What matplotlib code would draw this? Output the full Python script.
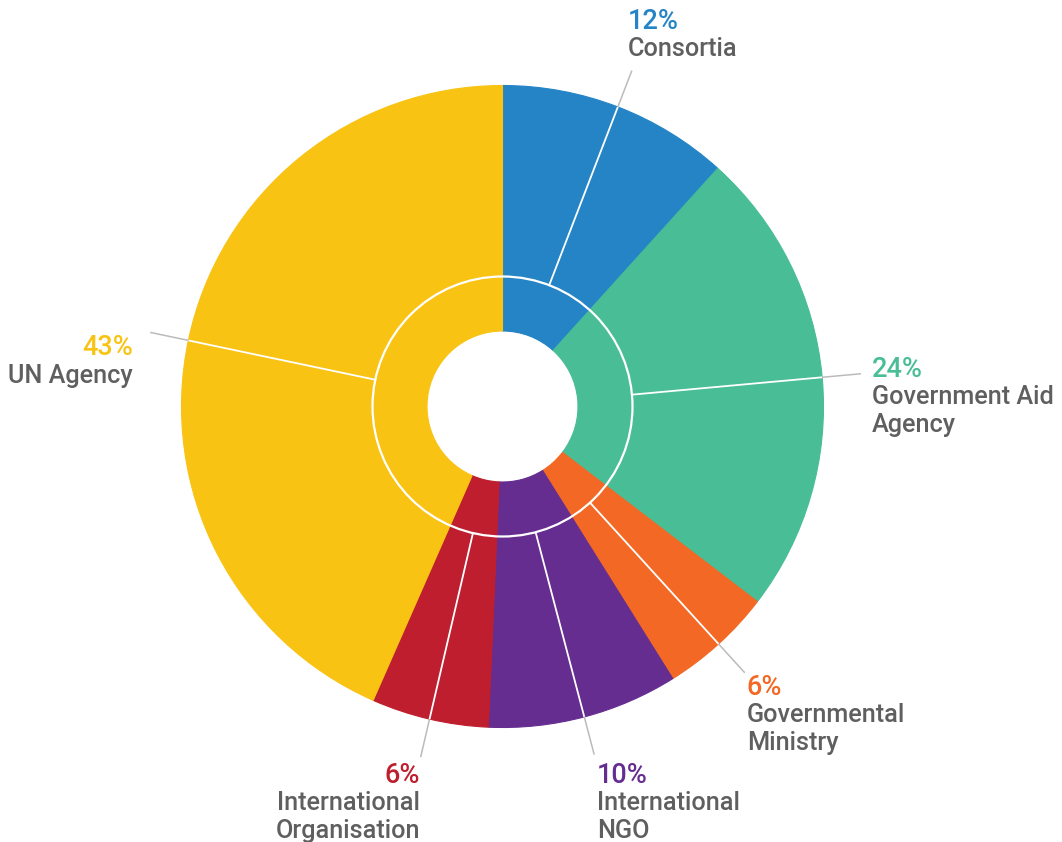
# -*- coding: utf-8 -*-

# %%
import numpy as np
import matplotlib.pyplot as plt
from matplotlib.patches import Circle


# %% Data ---------------------------------------------------------------------
categories = ['Consortia', 'Government Aid\nAgency', 'Governmental\nMinistry',
              'International\nNGO', 'International\nOrganisation', 'UN Agency']
shares = [11.7, 23.7, 5.7, 9.6, 5.9, 43.4]  # percent
colors = ['#2484C6', '#48BD96', '#F36824', '#652D90', '#BE1E2D', '#F9C313']


# %% Layout (pixels, y measured from the top) ---------------------------------
W, H = 1062, 842
cx, cy = 502.5, H - 406.5
r_outer, r_ring, r_hole, r_lead = 321, 130, 75.5, 360
# label anchor: x, baseline of the percentage line, alignment
label_pos = [(628, 29, 'left'), (872, 377, 'left'), (747, 695, 'left'),
             (597, 783, 'left'), (420, 783, 'right'), (133, 355, 'right')]
line_h = 27.5
grey = '#5F5F5F'
fsize = 18.2

plt.rcParams['font.family'] = ['Roboto', 'DejaVu Sans']


# %% Donut --------------------------------------------------------------------
fig = plt.figure(figsize=(W/100, H/100), dpi=100)
ax = fig.add_axes([0, 0, 1, 1])

wedges, _ = ax.pie(shares, colors=colors, startangle=90, counterclock=False,
                   radius=r_outer, center=(cx, cy),
                   wedgeprops=dict(width=r_outer - r_hole, linewidth=0.8))
for w, c in zip(wedges, colors):
    w.set_edgecolor(c)

# thin white ring inside the donut
ax.add_patch(Circle((cx, cy), r_ring, fill=False, ec='white', lw=1.6, zorder=3))

# leader lines at the middle of each slice
frac = np.array(shares)/np.sum(shares)
mid = np.deg2rad(360*(np.cumsum(frac) - frac/2))
for th in mid:
    s, c = np.sin(th), np.cos(th)
    ax.plot([cx + r_ring*s, cx + r_outer*s], [cy + r_ring*c, cy + r_outer*c],
            color='white', lw=1.3, zorder=3, solid_capstyle='butt')
    ax.plot([cx + r_outer*s, cx + r_lead*s], [cy + r_outer*c, cy + r_lead*c],
            color='#BBBBBB', lw=1.1, zorder=3, solid_capstyle='butt')

# labels: coloured percentage, grey name below
for name, v, col, (x, y, ha) in zip(categories, shares, colors, label_pos):
    ax.text(x, H - y, f'{v:.0f}%', color=col, fontsize=fsize + 1.3,
            fontweight='medium', ha=ha, va='baseline')
    for i, line in enumerate(name.split('\n')):
        ax.text(x, H - y - line_h*(i + 1), line, color=grey, fontsize=fsize,
                fontweight='medium', ha=ha, va='baseline')

ax.set_xlim(0, W)
ax.set_ylim(0, H)
ax.set_aspect('equal')
ax.axis('off')

fig.savefig('out.png', dpi=100)
